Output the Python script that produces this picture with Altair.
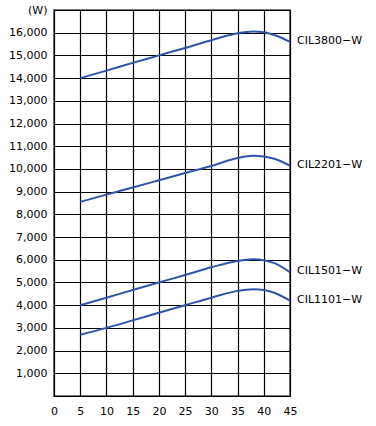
import altair as alt
import pandas as pd

x_vals = [5, 10, 15, 20, 25, 30, 35, 38, 40, 42, 45]
cil3800 = [14000, 14330, 14670, 15000, 15330, 15670, 15980, 16050, 16020, 15900, 15600]
cil2201 = [8550, 8870, 9180, 9500, 9820, 10130, 10480, 10580, 10550, 10450, 10150]
cil1501 = [4000, 4330, 4670, 5000, 5330, 5670, 5950, 6020, 5980, 5850, 5450]
cil1101 = [2700, 3000, 3330, 3670, 4000, 4330, 4630, 4700, 4670, 4550, 4200]
series = {"CIL3800−W": cil3800, "CIL2201−W": cil2201, "CIL1501−W": cil1501, "CIL1101−W": cil1101}

x_ticks = list(range(0, 50, 5))
y_ticks = list(range(0, 18000, 1000))

rows = []
for name, vals in series.items():
    for xv, yv in zip(x_vals, vals):
        rows.append({"series": name, "x": xv, "y": yv})
df = pd.DataFrame(rows)
labels = pd.DataFrame([{"series": n, "x": x_vals[-1], "y": v[-1]} for n, v in series.items()])

FONT = "DejaVu Sans"

xenc = alt.X("x:Q", scale=alt.Scale(domain=[0, 45], nice=False, zero=False),
             axis=alt.Axis(values=x_ticks, title=None, grid=True, gridColor="#000", gridWidth=1.2,
                           ticks=False, domain=False, labelPadding=9, labelFont=FONT,
                           labelFontSize=11, labelColor="#000", format="d",
                           labelOverlap=False, labelFlush=False, labelBound=False))
yenc = alt.Y("y:Q", scale=alt.Scale(domain=[0, 17000], nice=False),
             axis=alt.Axis(values=y_ticks, title="(W)", titleAngle=0, titleAlign="right",
                           titleBaseline="middle", titleX=-7, titleY=0, titleFont=FONT,
                           titleFontSize=11, titleFontWeight="normal", titleColor="#000",
                           grid=True, gridColor="#000", gridWidth=1.2, ticks=False, domain=False,
                           labelPadding=7, labelFont=FONT, labelFontSize=11, labelColor="#000",
                           labelOverlap=False, labelFlush=False, labelBound=False,
                           labelExpr="datum.value == 0 || datum.value == 17000 ? '' : format(datum.value, ',')"))

lines = alt.Chart(df).mark_line(color="#2e55a8", strokeWidth=2, interpolate="monotone").encode(
    x=xenc, y=yenc, detail="series:N")

texts = alt.Chart(labels).mark_text(align="left", baseline="middle", dx=7, dy=-1, font=FONT,
                                    fontSize=11, color="#000").encode(
    x=xenc, y=yenc, text="series:N")

chart = (lines + texts).properties(
    width=236, height=386,
    autosize=alt.AutoSizeParams(type="none"),
    padding={"left": 54, "top": 10, "right": 86, "bottom": 30},
    background="white",
).configure_view(stroke="#777", strokeWidth=2)

chart.save("out.html", embed_options={"renderer": "svg", "actions": False})
